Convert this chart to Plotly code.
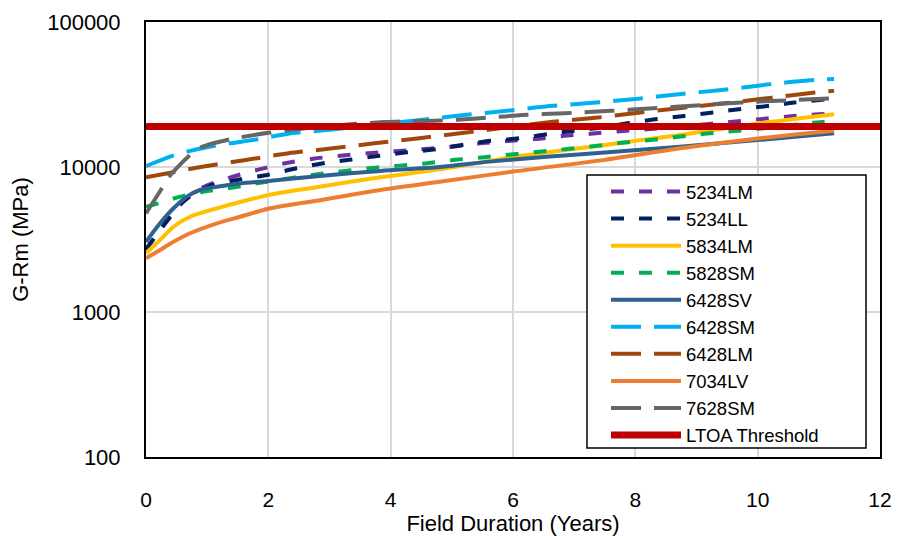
import plotly.graph_objects as go

# ---- data ----
x_5234LM = [0, 0.1, 0.3, 0.6, 0.95, 1.37, 1.82, 2.27, 2.73, 3.18, 3.63, 4.08, 4.53, 5.0, 5.46, 5.9, 6.37, 6.84, 7.27, 7.75, 8.2, 8.9, 9.55, 10.0, 10.5, 11.0, 11.25]
y_5234LM = [2680, 3100, 4000, 5700, 7300, 8450, 9550, 10600, 11400, 11950, 12450, 12850, 13270, 13800, 14550, 15100, 15600, 16400, 16950, 17650, 18200, 19300, 20450, 21300, 22300, 23100, 23500]

x_5234LL = [0, 0.15, 0.5, 0.72, 1.08, 1.55, 2.0, 2.46, 2.92, 3.36, 3.82, 4.26, 4.7, 5.17, 5.62, 6.1, 6.56, 7.0, 7.45, 7.9, 8.35, 8.8, 9.27, 9.73, 10.2, 10.6, 11.25]
y_5234LL = [2700, 3300, 5200, 6300, 7500, 8220, 8850, 9800, 10670, 11270, 11950, 12630, 13200, 14200, 15170, 15760, 16850, 17750, 18700, 20100, 21400, 22500, 23800, 25100, 26450, 27800, 29600]

x_5834LM = [0, 0.23, 0.45, 0.72, 1.16, 1.54, 2.0, 2.84, 3.83, 4.8, 6.0, 7.5, 8.73, 10.04, 11.25]
y_5834LM = [2540, 3140, 3870, 4540, 5190, 5740, 6400, 7310, 8500, 9630, 11700, 14200, 16640, 20000, 23100]

x_5828SM = [0, 0.2, 0.53, 0.9, 1.42, 2.0, 2.8, 3.25, 3.7, 4.15, 4.6, 5.05, 5.5, 5.97, 6.43, 6.89, 7.34, 7.78, 8.25, 8.7, 9.16, 9.62, 10.1, 10.5, 10.96, 11.25]
y_5828SM = [5320, 5610, 6200, 6700, 7220, 7950, 8900, 9400, 9850, 10220, 10630, 11200, 11640, 12200, 12750, 13300, 13950, 14700, 15350, 16150, 17000, 17700, 18500, 19300, 20300, 20800]

x_6428SV = [0, 0.23, 0.45, 0.67, 0.88, 1.16, 1.54, 2.0, 2.84, 3.83, 4.8, 5.62, 6.6, 7.5, 8.73, 10.04, 11.25]
y_6428SV = [3050, 4090, 5190, 6240, 6940, 7310, 7700, 8000, 8680, 9400, 10000, 10890, 11800, 12600, 13800, 15400, 17070]

x_6428SM = [0, 0.42, 0.67, 1.1, 1.37, 1.83, 2.3, 3.0, 4.45, 5.2, 5.9, 6.6, 7.3, 8.05, 8.75, 9.45, 10.15, 10.85, 11.25]
y_6428SM = [10150, 11900, 12760, 13970, 14560, 15530, 16900, 18100, 21000, 22800, 24400, 26300, 27700, 29600, 31900, 34100, 37000, 39600, 40500]

x_6428LM = [0, 0.4, 0.92, 1.63, 2.33, 3.05, 3.77, 4.47, 5.2, 5.9, 6.65, 7.35, 8.05, 8.75, 9.5, 10.2, 10.9, 11.25]
y_6428LM = [8500, 9140, 10050, 11180, 12430, 13450, 14630, 15800, 17200, 18800, 20500, 21850, 23650, 25550, 27600, 29950, 32500, 33500]

x_7034LV = [0, 0.23, 0.45, 0.72, 1.16, 1.54, 2.0, 2.84, 3.83, 4.8, 6.0, 7.5, 8.73, 10.04, 11.25]
y_7034LV = [2345, 2680, 3050, 3490, 4090, 4540, 5150, 5900, 6940, 7900, 9300, 11200, 13450, 15800, 17800]

x_7628SM = [0, 0.26, 0.37, 0.72, 0.91, 1.37, 2.0, 2.35, 3.0, 3.9, 4.8, 5.4, 6.15, 6.85, 7.6, 8.3, 9.0, 9.75, 10.45, 11.25]
y_7628SM = [4790, 7130, 8500, 12100, 13700, 15500, 17200, 18000, 19200, 20400, 20900, 21600, 22800, 23500, 24400, 25400, 26600, 27900, 28800, 29800]

x_ltoa = [0, 12]
y_ltoa = [19000, 19000]

series_names = ["5234LM", "5234LL", "5834LM", "5828SM", "6428SV", "6428SM", "6428LM", "7034LV", "7628SM", "LTOA Threshold"]

x_ticks = [0, 2, 4, 6, 8, 10, 12]
y_ticks = [100, 1000, 10000, 100000]
y_tick_text = ["100", "1000", "10000", "100000"]

# ---- styles ----
SHORT = "13px,15px"
LONG = "30px,13px"
styles = [
    ("#7030A0", 4, SHORT),
    ("#002060", 4, SHORT),
    ("#FFC000", 4, "solid"),
    ("#00B050", 4, SHORT),
    ("#2E6090", 4, "solid"),
    ("#00B0F0", 4, LONG),
    ("#9E480E", 4, LONG),
    ("#ED7D31", 4, "solid"),
    ("#666666", 4, LONG),
    ("#C00000", 7, "solid"),
]
xs = [x_5234LM, x_5234LL, x_5834LM, x_5828SM, x_6428SV, x_6428SM, x_6428LM, x_7034LV, x_7628SM, x_ltoa]
ys = [y_5234LM, y_5234LL, y_5834LM, y_5828SM, y_6428SV, y_6428SM, y_6428LM, y_7034LV, y_7628SM, y_ltoa]

fig = go.Figure()
for name, x, y, (c, w, d) in zip(series_names, xs, ys, styles):
    fig.add_trace(go.Scatter(
        x=x, y=y, name=name, mode="lines",
        line=dict(color=c, width=w, dash=d, shape="spline", smoothing=0.8),
    ))

# page has an 8px body margin: figure is drawn 8px right/down of the window corner
OFF = 8
W, H = 901 - OFF, 536 - OFF
# plot area in window pixels
PL, PR, PT, PB = 146, 880, 22, 457
def px(xp):
    return (xp - PL) / (PR - PL)
def py(yp):
    return (PB - yp) / (PB - PT)

fig.add_shape(type="rect", xref="paper", yref="paper",
              x0=px(587), x1=px(866), y0=py(448), y1=py(175),
              fillcolor="white", line=dict(color="#000000", width=1.5), layer="above")

FONT = "Liberation Sans, Arial, sans-serif"
fig.update_layout(
    width=W, height=H,
    margin=dict(l=PL - OFF, r=W - (PR - OFF), t=PT - OFF, b=H - (PB - OFF)),
    paper_bgcolor="white", plot_bgcolor="white",
    font=dict(family=FONT, color="#000000", size=21),
    showlegend=True,
    legend=dict(
        x=px(587), y=py(173), xanchor="left", yanchor="top",
        bgcolor="rgba(0,0,0,0)", borderwidth=0,
        font=dict(size=18.5, family=FONT), itemwidth=70, indentation=19,
        tracegroupgap=0, traceorder="normal",
    ),
    xaxis=dict(
        range=[0, 12], tickvals=x_ticks, showgrid=True, gridcolor="#D9D9D9", gridwidth=1.5,
        showline=True, linecolor="#000000", linewidth=2, mirror=True, automargin=False,
        ticks="", ticklabelstandoff=23, tickfont=dict(size=21),
        title=dict(text="Field Duration (Years)", font=dict(size=22), standoff=4),
        zeroline=False,
    ),
    yaxis=dict(
        type="log", range=[2, 5], tickvals=y_ticks, ticktext=y_tick_text,
        showgrid=True, gridcolor="#D9D9D9", gridwidth=1.5,
        showline=True, linecolor="#000000", linewidth=2, mirror=True, automargin=False,
        ticks="", ticklabelstandoff=19, tickfont=dict(size=22),
        title=dict(text="G-Rm (MPa)", font=dict(size=22), standoff=14),
        zeroline=False,
    ),
)

fig.write_html("out.html")
